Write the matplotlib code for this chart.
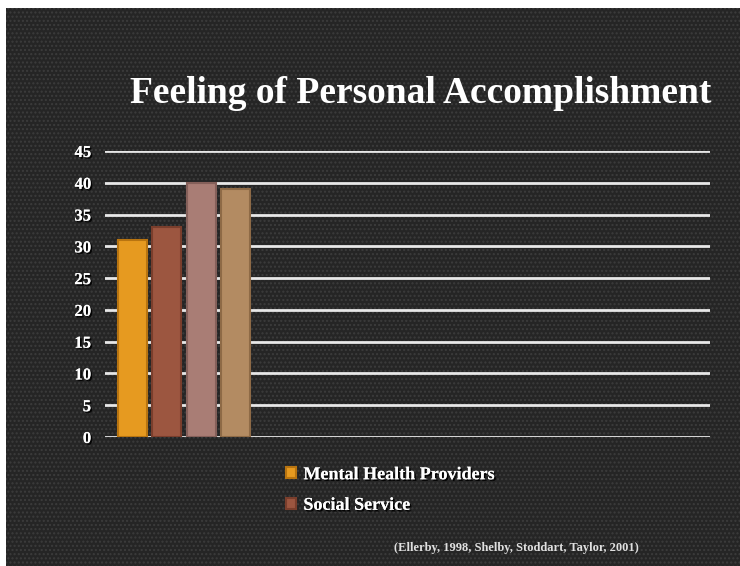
import matplotlib
matplotlib.use("Agg")
import matplotlib.pyplot as plt
from matplotlib.patches import Rectangle
import matplotlib.patheffects as pe

# ---- data ----
series_names = ["Mental Health Providers", "Social Service", "Series 3", "Series 4"]
values = [31, 33, 40, 39]
bar_colors = ["#E69A20", "#9C5640", "#A97D75", "#B38B62"]
edge_colors = ["#B87410", "#7A3E2C", "#85605A", "#8E6A46"]
legend_count = 2
yticks = [0, 5, 10, 15, 20, 25, 30, 35, 40, 45]
title = "Feeling of Personal Accomplishment"
citation = "(Ellerby, 1998, Shelby, Stoddart, Taylor, 2001)"

W, H = 740, 566
fig = plt.figure(figsize=(W / 100, H / 100), dpi=100)
fig.patch.set_facecolor("white")

# dark textured background
bg = Rectangle((6 / W, 0), 1 - 6 / W, 1 - 8 / H, transform=fig.transFigure,
               facecolor="#252525", edgecolor="none", zorder=-10)
fig.add_artist(bg)
tex = Rectangle((6 / W, 0), 1 - 6 / W, 1 - 8 / H, transform=fig.transFigure,
                facecolor="none", edgecolor="#3c3c3c", hatch="....", linewidth=0,
                zorder=-9)
fig.add_artist(tex)

shadow = [pe.withSimplePatchShadow(offset=(1.2, -1.2), shadow_rgbFace="black", alpha=0.9),
          pe.Normal()]

ax = fig.add_axes([105 / W, 1 - 437 / H, (710 - 105) / W, (437 - 151) / H])
ax.set_facecolor("none")
ax.set_xlim(-0.8, 16.8)
ax.set_ylim(0, 45)

for y in yticks:
    ax.axhline(y, color="#e8e8e8", linewidth=2.0, zorder=1)

bars = []
for i, (v, c, ec, name) in enumerate(zip(values, bar_colors, edge_colors, series_names)):
    b = ax.bar(i, v, width=0.84, color=c, edgecolor=ec, linewidth=1.5,
               zorder=3, label=name)
    bars.append(b)

for s in ax.spines.values():
    s.set_visible(False)
ax.set_xticks([])
ax.set_yticks(yticks)
ax.tick_params(axis="y", length=0, pad=10)
for lab in ax.get_yticklabels():
    lab.set_fontfamily("Liberation Serif")
    lab.set_fontweight("bold")
    lab.set_fontsize(12)
    lab.set_color("white")
    lab.set_path_effects(shadow)

fig.text(421 / W, 1 - 93 / H, title, ha="center", va="center",
         fontfamily="Liberation Serif", fontweight="bold", fontsize=27,
         color="white")

leg = fig.legend([bars[i] for i in range(legend_count)],
                 series_names[:legend_count],
                 loc="upper left", bbox_to_anchor=(270 / W, 1 - 450 / H),
                 frameon=False, handlelength=0.55, handleheight=0.55,
                 handletextpad=0.4, labelspacing=0.75,
                 prop={"family": "Liberation Serif", "weight": "bold", "size": 13})
for t in leg.get_texts():
    t.set_color("white")
    t.set_path_effects(shadow)

fig.text(516 / W, 1 - 548 / H, citation, ha="center", va="center",
         fontfamily="Liberation Serif", fontweight="bold", fontsize=9,
         color="#e0e0e0")

fig.savefig("out.png", dpi=100, facecolor=fig.get_facecolor())
